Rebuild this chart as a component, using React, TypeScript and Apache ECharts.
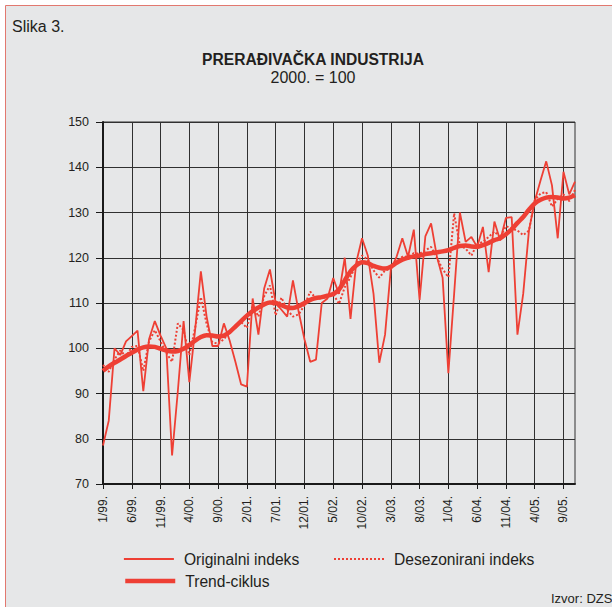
import React, { useEffect, useRef } from "react";
import * as echarts from "echarts";

// Month labels 1/99. … 11/05.
const years = ["99", "00", "01", "02", "03", "04", "05"];
const monthNumbers = [1, 2, 3, 4, 5, 6, 7, 8, 9, 10, 11, 12];
const categories: string[] = years
  .flatMap((y) => monthNumbers.map((m) => `${m}/${y}.`))
  .slice(0, 83);

// Originalni indeks
const original = [
  78.5, 84.0, 100.0, 98.5, 101.5, 102.7, 103.9, 90.5, 102.0, 106.0, 102.8, 100.0,
  76.3, 90.5, 106.0, 92.5, 104.0, 117.0, 107.0, 100.5, 100.5, 105.5, 101.7, 97.0,
  92.0, 91.5, 111.0, 103.0, 113.2, 117.4, 110.0, 108.5, 107.0, 115.0, 108.0, 102.0,
  97.0, 97.5, 110.0, 111.0, 115.5, 112.0, 120.0, 106.5, 119.0, 124.3, 120.5, 112.0,
  96.8, 103.0, 117.5, 120.2, 124.3, 120.2, 126.2, 110.7, 124.7, 127.6, 120.3, 115.6,
  94.5, 112.0, 130.0, 123.5, 124.6, 122.4, 126.8, 116.8, 128.0, 123.8, 128.8, 129.0,
  103.0, 112.0, 126.0, 132.5, 137.0, 141.3, 136.0, 124.3, 139.0, 134.0, 136.8,
];

// Desezonirani indeks
const deseasonalized = [
  96.3, 94.8, 97.5, 99.5, 98.2, 100.3, 100.5, 95.0, 101.5, 104.0, 101.5, 99.0,
  97.0, 105.5, 104.0, 98.5, 104.5, 111.3, 105.4, 101.3, 101.0, 102.0, 103.5, 105.0,
  105.8, 104.5, 109.5, 107.0, 111.5, 113.9, 107.3, 111.2, 108.5, 107.0, 107.5, 109.5,
  112.5, 111.0, 111.0, 111.5, 112.0, 109.8, 113.5, 115.7, 118.7, 120.5, 119.6, 117.2,
  115.6, 117.2, 117.5, 119.0, 120.2, 120.3, 121.0, 120.9, 121.6, 122.4, 120.0, 117.5,
  115.7, 129.8, 122.7, 122.0, 120.5, 123.0, 123.5, 124.6, 125.8, 124.5, 127.0, 126.5,
  126.0, 125.0, 126.0, 132.7, 134.2, 134.5, 131.3, 133.0, 134.0, 132.5, 135.0,
];

// Trend-ciklus
const trend = [
  95.0, 96.0, 96.8, 97.5, 98.3, 99.0, 99.7, 100.2, 100.4, 100.3, 99.9, 99.5,
  99.3, 99.4, 99.9, 100.7, 101.7, 102.5, 102.9, 102.8, 102.6, 102.8, 103.6, 104.8,
  106.0, 107.2, 108.2, 109.0, 109.7, 110.1, 110.0, 109.5, 109.0, 108.9, 109.3, 110.0,
  110.7, 111.1, 111.3, 111.6, 112.0, 113.0, 115.0, 117.0, 118.3, 119.0, 118.8, 118.2,
  117.8, 117.6, 118.0, 118.9, 119.6, 120.0, 120.3, 120.5, 120.8, 121.0, 121.2, 121.4,
  121.7, 122.2, 122.6, 122.7, 122.5, 122.4, 122.8, 123.3, 123.9, 124.3, 125.2, 126.3,
  127.7, 129.0, 130.6, 132.0, 132.8, 133.3, 133.4, 133.3, 133.1, 133.3, 133.8,
];

const seriesNames = ["Originalni indeks", "Desezonirani indeks", "Trend-ciklus"];

const RED = "#ee3f34";
const TXT = "#231f20";
const GRID = "#303030";
const FONT = "'Liberation Sans', Arial, Helvetica, sans-serif";

export default function App() {
  const ref = useRef<HTMLDivElement>(null);

  useEffect(() => {
    if (!ref.current) return;
    const chart = echarts.init(ref.current, null, { renderer: "svg" });
    const legendText = {
      fontSize: 15.6,
      color: TXT,
      fontFamily: FONT,
      padding: [0, 0, 0, 5],
    };
    const legendBase = {
      padding: 0,
      itemWidth: 50,
      itemHeight: 14,
      textStyle: legendText,
      itemStyle: { opacity: 0 },
    };
    chart.setOption({
      animation: false,
      backgroundColor: "#ffffff",
      textStyle: { fontFamily: FONT },
      graphic: [
        {
          type: "rect",
          z: -100,
          shape: { x: 5.5, y: 5.5, width: 640, height: 640 },
          style: { fill: "#e6e7e8", stroke: "#e2786f", lineWidth: 1 },
        },
        {
          type: "text",
          x: 12,
          y: 26,
          style: {
            text: "Slika 3.",
            fontSize: 16,
            fontFamily: FONT,
            fill: TXT,
            verticalAlign: "middle",
          },
        },
        {
          type: "text",
          x: 313,
          y: 59,
          style: {
            text: "PRERAĐIVAČKA INDUSTRIJA",
            fontSize: 15.6,
            fontWeight: "bold",
            fontFamily: FONT,
            fill: TXT,
            align: "center",
            verticalAlign: "middle",
          },
        },
        {
          type: "text",
          x: 313,
          y: 77,
          style: {
            text: "2000. = 100",
            fontSize: 16,
            fontFamily: FONT,
            fill: TXT,
            align: "center",
            verticalAlign: "middle",
          },
        },
        {
          type: "text",
          x: 551,
          y: 598,
          style: {
            text: "Izvor: DZS",
            fontSize: 13,
            fontFamily: FONT,
            fill: TXT,
            verticalAlign: "middle",
          },
        },
      ],
      grid: {
        left: 103,
        right: 37,
        top: 122,
        bottom: 123,
        show: true,
        borderColor: GRID,
        borderWidth: 1,
        backgroundColor: "transparent",
      },
      xAxis: {
        type: "category",
        data: categories,
        boundaryGap: false,
        axisLine: { lineStyle: { color: "#1a1a1a", width: 2 } },
        axisTick: {
          show: true,
          interval: 4,
          length: 5,
          lineStyle: { color: "#1a1a1a", width: 1 },
        },
        axisLabel: {
          interval: 4,
          rotate: 90,
          margin: 12,
          fontSize: 12,
          color: TXT,
          fontFamily: FONT,
        },
        splitLine: {
          show: true,
          interval: 4,
          lineStyle: { color: GRID, width: 1 },
        },
      },
      yAxis: {
        type: "value",
        min: 70,
        max: 150,
        interval: 10,
        axisLine: { show: true, lineStyle: { color: "#1a1a1a", width: 2 } },
        axisTick: {
          show: true,
          length: 7,
          lineStyle: { color: "#1a1a1a", width: 1 },
        },
        axisLabel: { margin: 14, fontSize: 12.5, color: TXT, fontFamily: FONT },
        splitLine: { show: true, lineStyle: { color: GRID, width: 1 } },
      },
      legend: [
        {
          ...legendBase,
          data: [seriesNames[0]],
          left: 123,
          top: 551,
          lineStyle: { color: RED, width: 1.8 },
        },
        {
          ...legendBase,
          data: [seriesNames[1]],
          left: 333,
          top: 551,
          lineStyle: { color: RED, width: 2, type: [2, 2] },
        },
        {
          ...legendBase,
          data: [seriesNames[2]],
          left: 123,
          top: 573,
          lineStyle: { color: RED, width: 4.5 },
        },
      ],
      series: [
        {
          name: seriesNames[0],
          type: "line",
          data: original,
          symbol: "none",
          z: 2,
          itemStyle: { color: RED },
          lineStyle: { color: RED, width: 1.8 },
        },
        {
          name: seriesNames[1],
          type: "line",
          data: deseasonalized,
          symbol: "none",
          z: 3,
          itemStyle: { color: RED },
          lineStyle: { color: RED, width: 2, type: [2, 2] },
        },
        {
          name: seriesNames[2],
          type: "line",
          data: trend,
          symbol: "none",
          smooth: 0.3,
          z: 4,
          itemStyle: { color: RED },
          lineStyle: { color: RED, width: 4.5 },
        },
      ],
    });
    return () => chart.dispose();
  }, []);

  return (
    <div
      ref={ref}
      style={{ position: "absolute", left: 0, top: 0, width: 612, height: 607 }}
    />
  );
}
